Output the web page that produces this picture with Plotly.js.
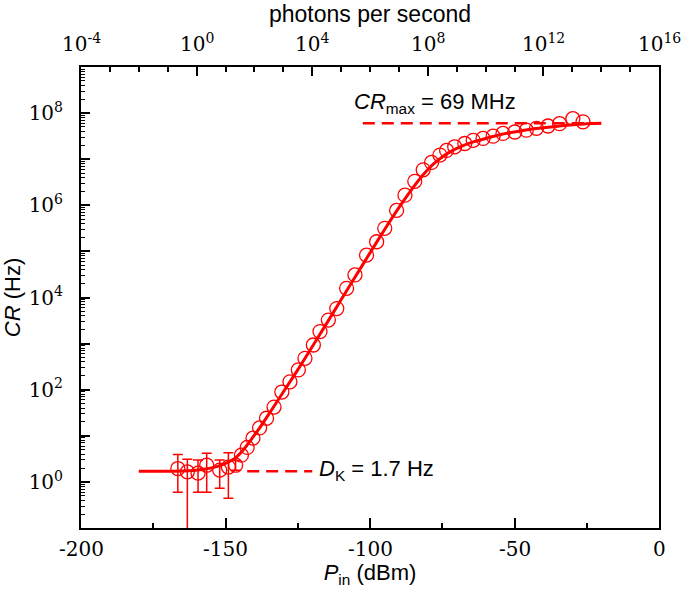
<!DOCTYPE html>
<html>
<head>
<meta charset="utf-8">
<script src="https://cdn.plot.ly/plotly-3.0.1.min.js"></script>
<style>html,body{margin:0;padding:0;background:#fff}#chart{width:685px;height:602px}</style>
</head>
<body>
<div id="chart"></div>
<script>
// ---- data ----
// low-power points with error bars (dBm, Hz)
const pLow = [-166.5, -163.2, -159.5, -156.5, -152.0, -149.0, -146.5];
const crLow = [1.95, 1.65, 1.55, 2.3, 1.8, 2.1, 2.3];
const errLowPlus = [2.0, 1.45, 1.45, 1.9, 1.2, 2.2, 0.6];
const errLowMinus = [1.35, 5.0, 0.95, 1.7, 1.07, 1.66, 0.5];

// measured count rate (dBm, Hz)
const pMeas = [-144.5, -142.5, -140.5, -138.2, -135.8, -133.2, -130.5, -127.7, -124.8, -122.5,
  -119.6, -117.3, -114.4, -111.5, -108.1, -105.2, -101.2, -97.7, -94.9, -90.8,
  -87.9, -84.5, -81.6, -78.7, -75.8, -73.5, -70.7, -67.2, -64.3, -60.9,
  -57.4, -54.0, -49.9, -45.9, -42.4, -38.4, -34.4, -29.8, -26.3];
const crMeas = [3.8, 5.6, 8.9, 14.8, 24, 42, 89, 148, 269, 479,
  933, 1820, 3240, 5750, 1.58e4, 3.09e4, 8.3e4, 1.62e5, 3.16e5, 7.76e5,
  1.66e6, 3.31e6, 5.89e6, 8.51e6, 1.23e7, 1.55e7, 1.86e7, 2.19e7, 2.57e7, 2.82e7,
  3.16e7, 3.63e7, 3.89e7, 4.27e7, 4.68e7, 5.25e7, 5.89e7, 7.59e7, 6.46e7];

// fitted curve (dBm, Hz)
const pFit = [-180, -165, -158, -153, -150, -147, -144, -141, -138, -135, -130, -125, -120, -115,
  -110, -105, -100, -95, -90, -87, -84, -81, -78, -75, -72, -68, -64, -60, -55, -50, -45, -40, -35, -30, -25, -20];
const crFit = [1.7, 1.72, 1.86, 2.14, 2.51, 3.16, 4.8, 8.5, 15.5, 29.5, 89, 269, 851, 2750,
  8900, 2.88e4, 9.3e4, 2.95e5, 8.9e5, 1.66e6, 3.0e6, 5.1e6, 7.9e6, 1.12e7, 1.48e7, 1.95e7, 2.4e7, 2.82e7, 3.4e7, 3.9e7, 4.4e7, 4.8e7, 5.2e7, 5.6e7, 5.9e7, 6.0e7];

// reference levels
const crMaxP = [-102.5, -20];
const crMaxV = [6.0e7, 6.0e7];
const dkP = [-142.5, -120];
const dkV = [1.7, 1.7];

// tick labels
const xTicks = [-200, -150, -100, -50, 0];
const xTickText = ['-200', '-150', '-100', '-50', '0'];
const xMinor = [-175, -125, -75, -25];
const yExp = [-1, 0, 1, 2, 3, 4, 5, 6, 7, 8, 9];
const topExp = [-4, 0, 4, 8, 12, 16];

const RED = 'rgb(255,0,0)';
const SANS = 'Liberation Sans';
const TICKFONT = {family: 'DejaVu Serif', size: 20, color: '#000'};

const yTickVals = yExp.map(e => Math.pow(10, e));
const yTickText = yExp.map(e => (e >= 0 && e % 2 === 0) ? '10<sup>' + e + '</sup>' : '');
const yMinor = [];
for (let e = -1; e < 9; e++) for (let k = 2; k <= 9; k++) yMinor.push(k * Math.pow(10, e));
const topVals = topExp.map(e => Math.pow(10, e));
const topText = topExp.map(e => '10<sup>' + e + '</sup>');
const topMinor = [];
for (let e = -4; e <= 16; e++) if (e % 4 !== 0) topMinor.push(Math.pow(10, e));

const traces = [
  {x: crMaxP, y: crMaxV, mode: 'lines', line: {color: RED, width: 2.5, dash: '12px,7px'}, hoverinfo: 'skip'},
  {x: dkP, y: dkV, mode: 'lines', line: {color: RED, width: 2.5, dash: '12px,7px'}, hoverinfo: 'skip'},
  {x: pLow, y: crLow, mode: 'markers', marker: {symbol: 'circle-open', size: 14, color: RED, line: {width: 1.3, color: RED}},
   error_y: {type: 'data', symmetric: false, array: errLowPlus, arrayminus: errLowMinus, color: RED, thickness: 1.5, width: 5}},
  {x: pMeas, y: crMeas, mode: 'markers', marker: {symbol: 'circle-open', size: 14, color: RED, line: {width: 1.3, color: RED}}},
  {x: pFit, y: crFit, mode: 'lines', line: {color: RED, width: 3, shape: 'spline', smoothing: 0.8}},
  {x: topVals, y: [null, null, null, null, null, null], xaxis: 'x2', yaxis: 'y', mode: 'markers', marker: {opacity: 0}, hoverinfo: 'skip'}
];

// horizontal-axis tick labels placed through the axes as text annotations
const bottomLabels = xTicks.map((v, i) => ({
  x: v, y: 0, xref: 'x', yref: 'paper', xanchor: 'center', yanchor: 'top', yshift: -7,
  showarrow: false, text: xTickText[i], font: TICKFONT
}));
const topLabels = topExp.map((e, i) => ({
  x: e, y: 1, xref: 'x2', yref: 'paper', xanchor: 'center', yanchor: 'bottom', yshift: 9,
  showarrow: false, text: topText[i], font: TICKFONT
}));

const layout = {
  width: 685, height: 602,
  margin: {l: 81, r: 26, t: 67, b: 74},
  paper_bgcolor: '#fff', plot_bgcolor: '#fff',
  font: {family: 'DejaVu Serif', size: 20, color: '#000'},
  showlegend: false,
  xaxis: {
    range: [-200, 0], tickmode: 'array', tickvals: xTicks, ticktext: xTickText, showticklabels: false,
    ticks: 'inside', ticklen: 10, tickwidth: 1.5, tickcolor: '#000',
    minor: {tickmode: 'array', tickvals: xMinor, ticks: 'inside', ticklen: 5, tickwidth: 1.5, tickcolor: '#000'},
    showline: true, linewidth: 2, linecolor: '#000', mirror: true,
    showgrid: false, zeroline: false,
    title: {text: '<i>P</i><sub>in</sub> (dBm)', font: {family: SANS, size: 22, color: '#000'}, standoff: 36}
  },
  xaxis2: {
    type: 'log', range: [-4, 16], overlaying: 'x', side: 'top', anchor: 'y',
    tickmode: 'array', tickvals: topVals, ticktext: topText, showticklabels: false,
    ticks: 'inside', ticklen: 9, tickwidth: 1.5, tickcolor: '#000',
    minor: {tickmode: 'array', tickvals: topMinor, ticks: 'inside', ticklen: 5, tickwidth: 1.5, tickcolor: '#000'},
    showline: true, linewidth: 2, linecolor: '#000',
    showgrid: false, zeroline: false,
    title: {text: 'photons per second', font: {family: SANS, size: 23, color: '#000'}, standoff: 36}
  },
  yaxis: {
    type: 'log', range: [-1, 9], tickmode: 'array', tickvals: yTickVals, ticktext: yTickText,
    ticks: 'inside', ticklen: 9, tickwidth: 1.5, tickcolor: '#000',
    minor: {tickmode: 'array', tickvals: yMinor, ticks: 'inside', ticklen: 4, tickwidth: 1.2, tickcolor: '#000'},
    showline: true, linewidth: 2, linecolor: '#000', mirror: true,
    showgrid: false, zeroline: false,
    tickfont: TICKFONT,
    ticklabelstandoff: 12,
    title: {text: '<i>CR</i> (Hz)', font: {family: SANS, size: 22, color: '#000'}, standoff: 8}
  },
  annotations: bottomLabels.concat(topLabels, [
    {x: -106.3, y: 8.21, xref: 'x', yref: 'y', xanchor: 'left', yanchor: 'middle', showarrow: false,
     text: '<i>CR</i><sub>max</sub> = 69 MHz', font: {family: SANS, size: 22, color: '#000'}},
    {x: -118.4, y: 0.25, xref: 'x', yref: 'y', xanchor: 'left', yanchor: 'middle', showarrow: false,
     text: '<i>D</i><sub>K</sub> = 1.7 Hz', font: {family: SANS, size: 22, color: '#000'}}
  ])
};

Plotly.newPlot('chart', traces, layout, {displayModeBar: false});
</script>
</body>
</html>
